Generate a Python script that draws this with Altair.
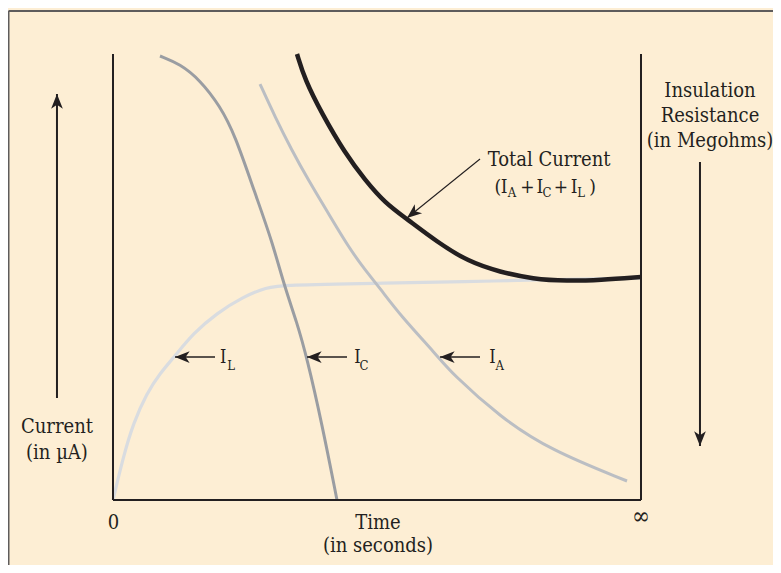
import altair as alt
import pandas as pd

# ---------------- data (time axis 0..100 = "0".."∞", current axis 0..100) -------------
ic_x = [8.90, 12.69, 16.48, 20.27, 23.11, 26.89, 30.06, 32.58, 34.79, 36.74, 39.58, 42.42]
ic_y = [99.55, 97.76, 94.17, 88.34, 81.84, 68.77, 58.30, 47.47, 39.98, 31.84, 17.04, 0.0]

ia_x = [27.84, 30.68, 33.84, 36.99, 40.78, 44.56, 47.73, 50.57, 54.36, 61.31, 64.15, 73.30, 82.77, 97.35]
ia_y = [93.27, 85.94, 78.48, 71.75, 64.28, 56.79, 51.57, 47.47, 41.48, 32.51, 28.41, 18.61, 11.21, 4.26]

il_x = [0.0, 1.95, 3.84, 6.38, 8.90, 11.74, 15.21, 19.64, 24.68, 29.11, 32.25, 49.62, 67.61, 78.98, 100.0]
il_y = [0.0, 9.71, 17.20, 23.92, 28.41, 32.29, 37.38, 41.86, 45.58, 47.69, 48.21, 48.59, 48.95, 49.33, 49.78]

tot_x = [34.85, 36.36, 39.53, 43.94, 47.73, 51.52, 55.68, 61.31, 67.29, 73.30, 79.55, 85.98, 92.23, 100.0]
tot_y = [100.0, 94.17, 86.70, 77.74, 71.75, 66.59, 62.99, 57.91, 53.43, 51.12, 49.55, 49.10, 49.33, 50.0]

# axes frame lines (x, y, x2, y2)
axis_x1 = [0.0, 0.0, 100.0]
axis_y1 = [0.0, 0.0, 0.0]
axis_x2 = [0.0, 100.0, 100.0]
axis_y2 = [100.0, 0.0, 100.0]

# outer border (left and top)
border_x1 = [-19.79, -19.79]
border_y1 = [-14.6, 109.66]
border_x2 = [-19.79, 126.0]
border_y2 = [109.66, 109.66]

# arrows: shaft start (tail) and tip, thickness
arr_tail_x = [-10.61, 111.17, 19.32, 44.32, 69.51, 69.51]
arr_tail_y = [22.87, 75.78, 32.06, 32.06, 32.06, 76.46]
arr_tip_x = [-10.61, 111.17, 11.74, 36.74, 61.93, 55.68]
arr_tip_y = [91.03, 12.11, 32.06, 32.06, 32.06, 63.23]
arr_angle = [0, 180, 270, 270, 270, 231.1]
arr_width = [2.0, 2.0, 1.4, 1.4, 1.4, 1.1]

# big text labels (centered)
lab_text = ["Insulation", "Resistance", "(in Megohms)", "Total Current",
            "Current", "(in \u00b5A)", "0", "Time", "(in seconds)"]
lab_x = [113.07, 113.07, 113.07, 82.60, -10.61, -10.61, 0.09, 50.19, 50.19]
lab_y = [90.47, 84.82, 79.15, 74.96, 15.02, 9.19, -6.50, -6.50, -11.66]

inf_text = ["\u221e"]
inf_x = [100.0]
inf_y = [-5.38]

# curve labels I with subscripts (glyph centres)
ci_x = [20.89, 46.31, 71.88]
ci_y = [30.65, 30.65, 30.65]
cs_text = ["L", "C", "A"]
cs_x = [22.37, 47.54, 73.26]
cs_y = [29.15, 29.15, 29.15]

# "(I_A + I_C + I_L)" pieces (glyph centres)
tm_text = ["(", "I", "+", "I", "+", "I", ")"]
tm_x = [72.88, 74.09, 78.50, 80.87, 84.85, 87.35, 90.81]
tm_y = [68.77] * 7
ts_text = ["A", "C", "L"]
ts_x = [75.57, 82.20, 88.64]
ts_y = [68.00] * 3

# ---------------- chart --------------------------------------------------------------
FONT = "DejaVu Serif Condensed"
INK = "#231F20"
BG = "#FDEED4"

xs = alt.Scale(domain=[-19.886, 125.0], nice=False, zero=False)
ys = alt.Scale(domain=[-14.574, 110.314], nice=False, zero=False)
X = lambda f: alt.X(f, type="quantitative", scale=xs, axis=None)
Y = lambda f: alt.Y(f, type="quantitative", scale=ys, axis=None)


def curve(xv, yv, color, width):
    df = pd.DataFrame({"x": xv, "y": yv})
    return alt.Chart(df).mark_line(
        color=color, strokeWidth=width, interpolate="basis", strokeCap="butt"
    ).encode(x=X("x"), y=Y("y"))


def texts(xv, yv, tv, size, align="center"):
    df = pd.DataFrame({"x": xv, "y": yv, "t": tv})
    return alt.Chart(df).mark_text(
        font=FONT, fontSize=size, color=INK, align=align, baseline="alphabetic"
    ).encode(x=X("x"), y=Y("y"), text="t:N")


border = alt.Chart(pd.DataFrame({"x": border_x1, "y": border_y1, "x2": border_x2, "y2": border_y2})).mark_rule(
    color="#5E5C5C", strokeWidth=2
).encode(x=X("x"), y=Y("y"), x2="x2", y2="y2")

axes = alt.Chart(pd.DataFrame({"x": axis_x1, "y": axis_y1, "x2": axis_x2, "y2": axis_y2})).mark_rule(
    color=INK, strokeWidth=2
).encode(x=X("x"), y=Y("y"), x2="x2", y2="y2")

arr_df = pd.DataFrame({"x": arr_tail_x, "y": arr_tail_y, "x2": arr_tip_x, "y2": arr_tip_y,
                       "angle": arr_angle, "w": arr_width})
shafts = alt.Chart(arr_df).mark_rule(color=INK).encode(
    x=X("x"), y=Y("y"), x2="x2", y2="y2",
    strokeWidth=alt.StrokeWidth("w:Q", scale=None, legend=None),
)
heads = alt.Chart(arr_df).mark_point(
    shape="M0,0 L0.8,2 L0,1.45 L-0.8,2 Z", size=215, filled=True, color=INK, opacity=1, strokeWidth=0
).encode(
    x=alt.X("x2", type="quantitative", scale=xs, axis=None),
    y=alt.Y("y2", type="quantitative", scale=ys, axis=None),
    angle=alt.Angle("angle:Q", scale=None),
)

chart = alt.layer(
    border,
    curve(il_x, il_y, "#D9DCE0", 3.2),
    curve(ia_x, ia_y, "#BBBEC3", 3.0),
    curve(ic_x, ic_y, "#9A9DA2", 3.0),
    curve(tot_x, tot_y, INK, 4.5),
    axes, shafts, heads,
    texts(lab_x, lab_y, lab_text, 20),
    texts(inf_x, inf_y, inf_text, 24),
    texts(ci_x, ci_y, ["I"] * 3, 18),
    texts(cs_x, cs_y, cs_text, 13),
    texts(tm_x, tm_y, tm_text, 19),
    texts(ts_x, ts_y, ts_text, 13),
).properties(
    width=765, height=557,
    autosize=alt.AutoSizeParams(type="none"),
    padding=0,
    background=BG,
).configure_view(stroke=None, fill=BG)

chart.save("out.html", embed_options={"renderer": "svg", "actions": False})
